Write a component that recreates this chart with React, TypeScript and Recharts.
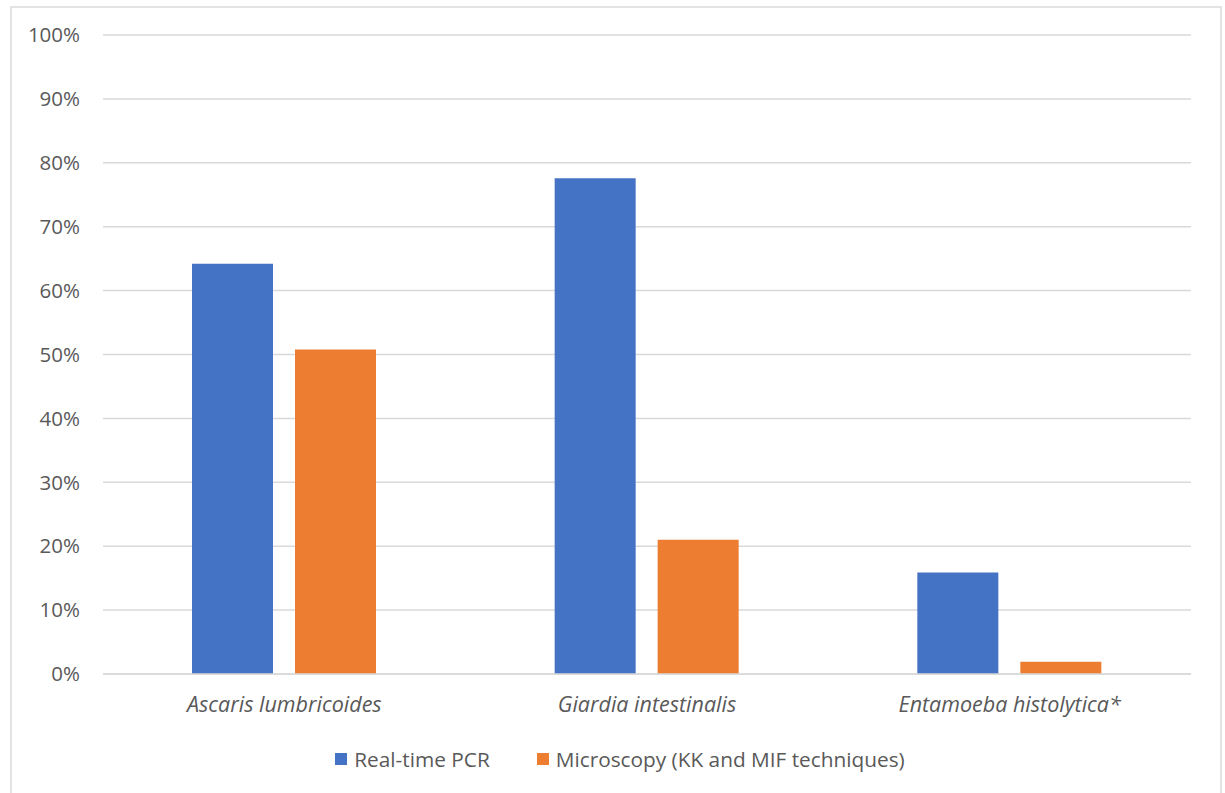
import { BarChart, Bar, XAxis, YAxis, CartesianGrid } from "recharts";

const species = ["Ascaris lumbricoides", "Giardia intestinalis", "Entamoeba histolytica*"];
const pcrValues = [0.642, 0.776, 0.159];
const microscopyValues = [0.508, 0.21, 0.019];
const yTicks = [0, 0.1, 0.2, 0.3, 0.4, 0.5, 0.6, 0.7, 0.8, 0.9, 1];

const seriesInfo = [
  { key: "pcr", name: "Real-time PCR", color: "#4472C4" },
  { key: "micro", name: "Microscopy (KK and MIF techniques)", color: "#ED7D31" },
];

const data = species.map((name, i) => ({
  name,
  pcr: pcrValues[i],
  micro: microscopyValues[i],
}));

const FONT = "'Open Sans', 'Liberation Sans', sans-serif";
const TEXT = "#595959";

// legend drawn outside the chart so it doesn't eat plot height
const LegendBox = () => (
  <div
    style={{
      position: "absolute",
      left: 0,
      top: 745,
      width: 1240,
      display: "flex",
      justifyContent: "center",
      alignItems: "center",
      fontFamily: FONT,
      fontSize: 20.8,
      color: TEXT,
      lineHeight: "28px",
    }}
  >
    {seriesInfo.map((s, i) => (
      <div
        key={s.key}
        style={{ display: "flex", alignItems: "center", marginLeft: i ? 47 : 0 }}
      >
        <span
          style={{
            display: "inline-block",
            width: 12,
            height: 12,
            background: s.color,
            marginRight: 7,
          }}
        />
        <span>{s.name}</span>
      </div>
    ))}
  </div>
);

export default function App() {
  return (
    <div style={{ position: "absolute", left: 0, top: 0, width: 1225, height: 793, background: "#fff", overflow: "hidden" }}>
      <div
        style={{
          position: "absolute",
          left: 10,
          top: 6,
          width: 1208,
          height: 800,
          border: "2px solid #e3e3e3",
        }}
      />
      <div style={{ position: "absolute", left: 0, top: 0 }}>
        <BarChart
          width={1225}
          height={793}
          data={data}
          margin={{ top: 35, right: 34, bottom: 0, left: 0 }}
          barGap={22}
          barSize={81}
        >
          <CartesianGrid vertical={false} stroke="#d9d9d9" strokeWidth={1.5} />
          <XAxis
            dataKey="name"
            axisLine={{ stroke: "#d9d9d9", strokeWidth: 1.5 }}
            tickLine={false}
            tickSize={0}
            tickMargin={23}
            tick={{ fill: TEXT, fontSize: 21.5, fontFamily: FONT, fontStyle: "italic" }}
            height={119}
          />
          <YAxis
            domain={[0, 1]}
            ticks={yTicks}
            width={103}
            axisLine={false}
            tickLine={false}
            tickSize={0}
            tickMargin={23}
            tickFormatter={(v: number) => `${Math.round(v * 100)}%`}
            tick={{ fill: TEXT, fontSize: 20.5, fontFamily: FONT }}
          />
          {seriesInfo.map((s) => (
            <Bar key={s.key} dataKey={s.key} name={s.name} fill={s.color} isAnimationActive={false} />
          ))}
        </BarChart>
      </div>
      <LegendBox />
    </div>
  );
}
